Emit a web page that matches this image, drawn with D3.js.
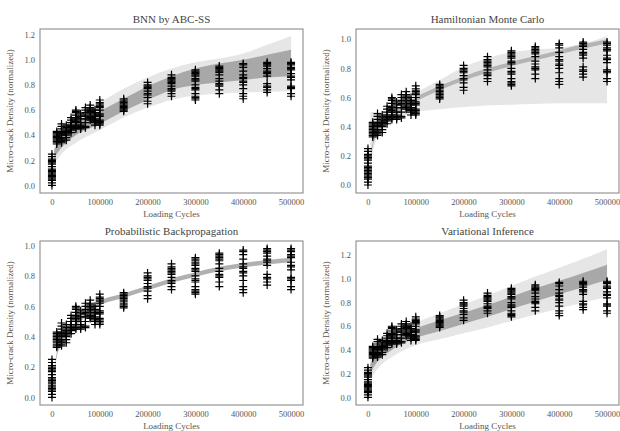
<!DOCTYPE html>
<html>
<head>
<meta charset="utf-8">
<script src="https://cdn.jsdelivr.net/npm/d3@7"></script>
<style>
  body { margin: 0; background: #fff; }
  svg text { font-family: "Liberation Serif", "DejaVu Serif", serif; }
</style>
</head>
<body>
<svg id="chart" width="620" height="431"></svg>
<script>

// measured cycles and the micro-crack density readings at each one
var cycles = [0, 10000, 20000, 30000, 40000, 50000, 60000, 70000, 80000, 90000, 100000,
              150000, 200000, 250000, 300000, 350000, 400000, 450000, 500000];
var density = [
  [0.00, 0.02, 0.04, 0.05, 0.06, 0.07, 0.08, 0.09, 0.10, 0.11, 0.12, 0.13, 0.15, 0.17, 0.18, 0.19, 0.20, 0.21, 0.23, 0.25],
  [0.33, 0.34, 0.35, 0.36, 0.37, 0.38, 0.39, 0.40, 0.41, 0.42, 0.43],
  [0.34, 0.35, 0.36, 0.37, 0.38, 0.40, 0.41, 0.42, 0.43, 0.45, 0.47, 0.49],
  [0.36, 0.38, 0.40, 0.41, 0.42, 0.43, 0.44, 0.46, 0.48],
  [0.42, 0.44, 0.45, 0.46, 0.47, 0.48, 0.50, 0.52, 0.54],
  [0.45, 0.46, 0.48, 0.50, 0.51, 0.52, 0.53, 0.54, 0.56, 0.58, 0.59, 0.60],
  [0.45, 0.46, 0.47, 0.48, 0.50, 0.53, 0.55, 0.57],
  [0.46, 0.47, 0.50, 0.53, 0.55, 0.56, 0.58, 0.60, 0.62],
  [0.52, 0.53, 0.54, 0.57, 0.59, 0.60, 0.61, 0.62, 0.64],
  [0.48, 0.50, 0.51, 0.52, 0.53, 0.55, 0.56, 0.58, 0.60],
  [0.48, 0.49, 0.50, 0.51, 0.52, 0.55, 0.56, 0.57, 0.60, 0.62, 0.63, 0.64, 0.65, 0.66, 0.68],
  [0.59, 0.60, 0.61, 0.62, 0.63, 0.64, 0.65, 0.66, 0.67, 0.68, 0.69],
  [0.65, 0.67, 0.70, 0.72, 0.73, 0.75, 0.77, 0.78, 0.79, 0.80, 0.82],
  [0.71, 0.73, 0.75, 0.76, 0.77, 0.79, 0.81, 0.82, 0.83, 0.84, 0.85, 0.86, 0.88],
  [0.68, 0.69, 0.70, 0.71, 0.73, 0.76, 0.77, 0.78, 0.80, 0.83, 0.84, 0.85, 0.87, 0.88, 0.89, 0.90, 0.91, 0.92],
  [0.73, 0.76, 0.79, 0.80, 0.81, 0.83, 0.85, 0.88, 0.90, 0.91, 0.92, 0.93, 0.94, 0.95],
  [0.69, 0.71, 0.73, 0.77, 0.80, 0.82, 0.83, 0.85, 0.86, 0.88, 0.91, 0.94, 0.96, 0.97],
  [0.74, 0.76, 0.78, 0.79, 0.81, 0.87, 0.89, 0.90, 0.91, 0.93, 0.95, 0.96, 0.97, 0.98],
  [0.71, 0.73, 0.77, 0.78, 0.79, 0.84, 0.86, 0.87, 0.89, 0.92, 0.93, 0.94, 0.96, 0.97, 0.98]
];

// x positions where the prediction bands are given
var bandCycles = [5000, 10000, 20000, 50000, 100000, 150000, 200000, 250000, 300000, 350000, 400000, 450000, 500000];

// BNN by ABC-SS
var abcOuterLo = [0.17, 0.20, 0.25, 0.34, 0.44, 0.54, 0.62, 0.68, 0.715, 0.73, 0.74, 0.745, 0.75];
var abcOuterHi = [0.34, 0.38, 0.44, 0.55, 0.66, 0.77, 0.86, 0.93, 0.98, 1.01, 1.05, 1.12, 1.19];
var abcInnerLo = [0.22, 0.25, 0.30, 0.40, 0.49, 0.59, 0.68, 0.76, 0.80, 0.82, 0.84, 0.86, 0.87];
var abcInnerHi = [0.29, 0.32, 0.38, 0.49, 0.59, 0.69, 0.79, 0.87, 0.93, 0.97, 1.00, 1.04, 1.08];

// Hamiltonian Monte Carlo
var hmcOuterLo = [0.12, 0.22, 0.33, 0.43, 0.50, 0.52, 0.535, 0.545, 0.55, 0.555, 0.56, 0.56, 0.56];
var hmcOuterHi = [0.50, 0.50, 0.50, 0.51, 0.63, 0.72, 0.81, 0.87, 0.91, 0.93, 0.94, 0.97, 1.02];
var hmcInnerLo = [0.165, 0.265, 0.345, 0.455, 0.57, 0.65, 0.715, 0.77, 0.815, 0.855, 0.895, 0.935, 0.97];
var hmcInnerHi = [0.195, 0.295, 0.375, 0.485, 0.60, 0.68, 0.745, 0.80, 0.845, 0.885, 0.925, 0.965, 1.00];

// Probabilistic Backpropagation
var pbpInnerLo = [0.135, 0.265, 0.345, 0.465, 0.605, 0.655, 0.705, 0.755, 0.795, 0.83, 0.855, 0.875, 0.89];
var pbpInnerHi = [0.165, 0.295, 0.375, 0.495, 0.635, 0.685, 0.735, 0.785, 0.825, 0.86, 0.885, 0.905, 0.92];

// Variational Inference
var viOuterLo = [0.14, 0.18, 0.24, 0.34, 0.44, 0.49, 0.54, 0.59, 0.645, 0.70, 0.75, 0.80, 0.85];
var viOuterHi = [0.33, 0.37, 0.43, 0.53, 0.63, 0.71, 0.785, 0.86, 0.94, 1.02, 1.095, 1.17, 1.25];
var viInnerLo = [0.20, 0.24, 0.30, 0.40, 0.50, 0.56, 0.62, 0.68, 0.745, 0.81, 0.87, 0.93, 0.99];
var viInnerHi = [0.28, 0.32, 0.38, 0.48, 0.58, 0.65, 0.715, 0.78, 0.85, 0.92, 0.985, 1.05, 1.12];

var xTicks = [0, 100000, 200000, 300000, 400000, 500000];

var panels = [
  {title: 'BNN by ABC-SS', left: 40, top: 29, ymin: -0.06, ymax: 1.245,
   yTicks: [0, 0.2, 0.4, 0.6, 0.8, 1.0, 1.2],
   outer: [abcOuterLo, abcOuterHi], inner: [abcInnerLo, abcInnerHi], innerColor: '#a8a8a8'},
  {title: 'Hamiltonian Monte Carlo', left: 356, top: 29, ymin: -0.055, ymax: 1.07,
   yTicks: [0, 0.2, 0.4, 0.6, 0.8, 1.0],
   outer: [hmcOuterLo, hmcOuterHi], inner: [hmcInnerLo, hmcInnerHi], innerColor: '#b4b4b4'},
  {title: 'Probabilistic Backpropagation', left: 40, top: 241, ymin: -0.05, ymax: 1.03,
   yTicks: [0, 0.2, 0.4, 0.6, 0.8, 1.0],
   outer: null, inner: [pbpInnerLo, pbpInnerHi], innerColor: '#b0b0b0'},
  {title: 'Variational Inference', left: 356, top: 241, ymin: -0.065, ymax: 1.32,
   yTicks: [0, 0.2, 0.4, 0.6, 0.8, 1.0, 1.2],
   outer: [viOuterLo, viOuterHi], inner: [viInnerLo, viInnerHi], innerColor: '#a8a8a8'}
];

var W = 263, H = 164;
var svg = d3.select('#chart');

var points = [];
for (var i = 0; i < cycles.length; i++){
  for (var j = 0; j < density[i].length; j++){
    points.push({x: cycles[i], y: density[i][j]});
  }
}

panels.forEach(function(p){
  var g = svg.append('g').attr('transform', 'translate(' + p.left + ',' + p.top + ')');

  var x = d3.scaleLinear().domain([-25000, 525000]).range([0, W]);
  var y = d3.scaleLinear().domain([p.ymin, p.ymax]).range([H, 0]);

  function band(lohi){
    return d3.area()
      .x(function(d, k){ return x(bandCycles[k]); })
      .y0(function(d, k){ return y(lohi[0][k]); })
      .y1(function(d, k){ return y(lohi[1][k]); })
      .curve(d3.curveMonotoneX)(bandCycles);
  }

  if (p.outer){
    g.append('path').attr('d', band(p.outer)).attr('fill', '#e6e6e6');
  }
  g.append('path').attr('d', band(p.inner)).attr('fill', p.innerColor);

  g.selectAll('path.pt')
    .data(points)
    .enter()
    .append('path')
      .attr('class', 'pt')
      .attr('transform', function(d){ return 'translate(' + x(d.x) + ',' + y(d.y) + ')'; })
      .attr('d', 'M-4,0H4M0,-4V4')
      .attr('stroke', '#000')
      .attr('stroke-width', 1.2)
      .attr('fill', 'none');

  // frame
  g.append('rect')
    .attr('x', 0).attr('y', 0).attr('width', W).attr('height', H)
    .attr('fill', 'none').attr('stroke', '#8c8c8c').attr('stroke-width', 1.1);

  g.append('g')
      .attr('transform', 'translate(0,' + H + ')')
      .call(d3.axisBottom(x).tickValues(xTicks).tickFormat(d3.format('d')).tickSize(0).tickPadding(6))
      .call(function(a){ a.select('.domain').remove(); })
      .selectAll('text')
        .attr('fill', '#555').attr('font-size', 8.5)
        .style('font-family', '"Liberation Serif", serif');

  g.append('g')
      .call(d3.axisLeft(y).tickValues(p.yTicks).tickFormat(d3.format('.1f')).tickSize(0).tickPadding(5))
      .call(function(a){ a.select('.domain').remove(); })
      .selectAll('text')
        .attr('fill', '#555').attr('font-size', 8.5)
        .style('font-family', '"Liberation Serif", serif');

  g.append('text')
    .attr('x', W / 2).attr('y', -6)
    .attr('text-anchor', 'middle')
    .attr('fill', '#444').attr('font-size', 11)
    .text(p.title);

  g.append('text')
    .attr('x', W / 2).attr('y', H + 24)
    .attr('text-anchor', 'middle')
    .attr('fill', '#555').attr('font-size', 9)
    .text('Loading Cycles');

  g.append('text')
    .attr('transform', 'translate(-27,' + (H / 2) + ') rotate(-90)')
    .attr('text-anchor', 'middle')
    .attr('fill', '#555').attr('font-size', 9)
    .text('Micro-crack Density (normalized)');
});
</script>
</body>
</html>
